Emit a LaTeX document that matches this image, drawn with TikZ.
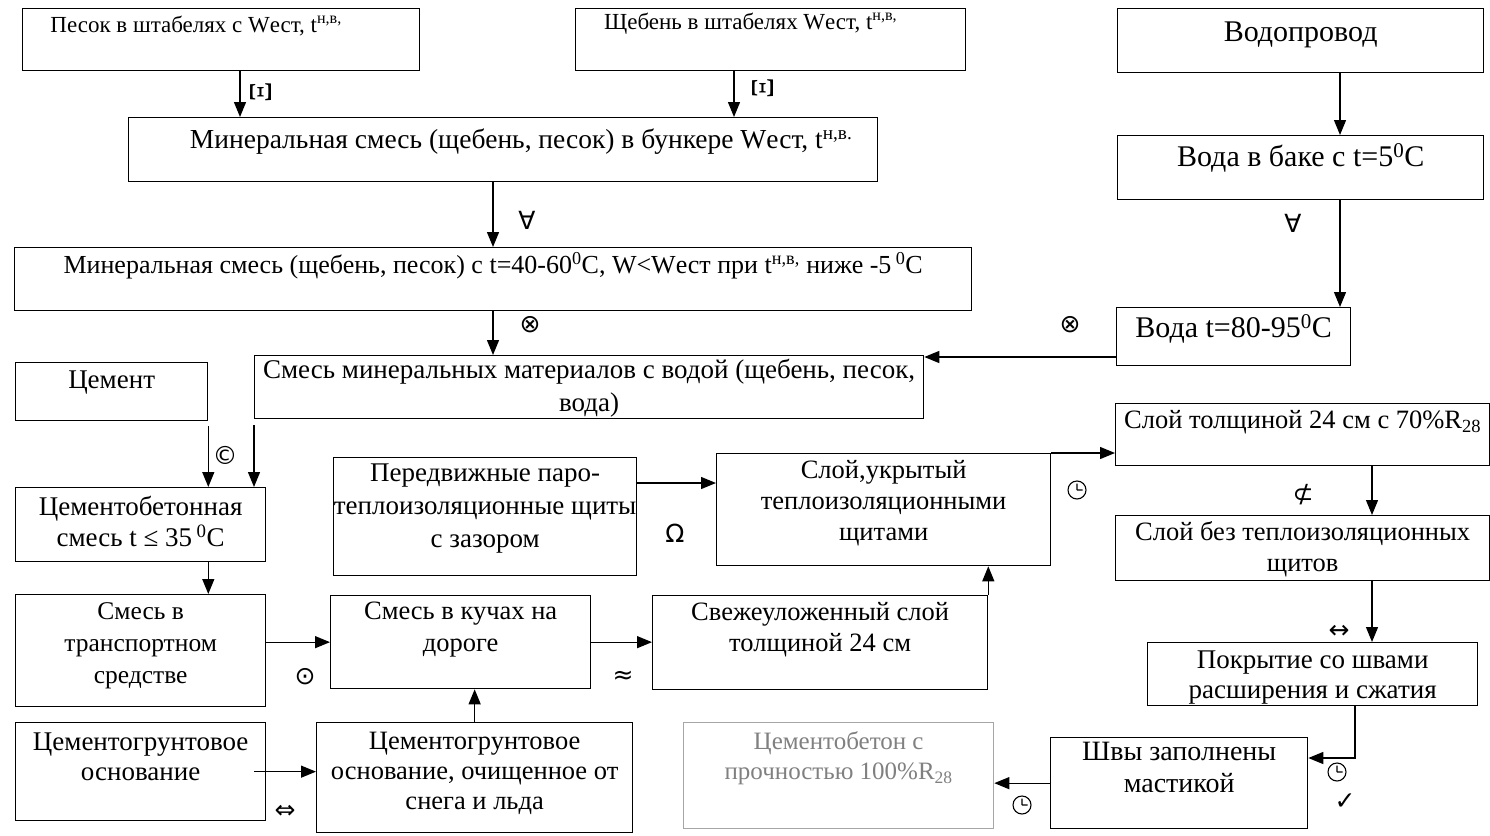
\documentclass[tikz,border=0pt]{standalone}
\usepackage{fontspec}
\setmainfont{Liberation Serif}
\newfontfamily\symb{DejaVu Sans}
\usetikzlibrary{arrows.meta}

\begin{document}
\begin{tikzpicture}[x=1pt, y=-1pt,
  box/.style={rectangle, draw, line width=1.3pt, inner sep=0pt, anchor=north west, align=center, font=\fontsize{27}{32}\selectfont},
  arr/.style={-{Stealth[length=15pt, width=12pt, inset=0pt]}, line width=1.3pt},
  sym/.style={inner sep=0pt, font=\symb\fontsize{25}{25}\selectfont},
  clock/.pic={\draw[line width=1.1pt] (0,0) circle (9) (0,0) -- (0,-6.5) (0,0) -- (5.5,0);}]
\useasboundingbox (0,0) rectangle (1490,835);

\node (0) [box, minimum width=397pt, text height=24pt, text depth=38pt, font=\fontsize{23}{30}\selectfont] at (22,8) {Песок в штабелях с Wест, t\textsuperscript{н,в,}\hspace*{50pt}};
\node (1) [box, minimum width=390pt, text height=21pt, text depth=41pt, font=\fontsize{23}{30}\selectfont] at (575,8) {Щебень в штабелях Wест, t\textsuperscript{н,в,}\hspace*{40pt}};
\node (2) [box, minimum width=366pt, text height=33pt, text depth=31pt, font=\fontsize{30}{34}\selectfont] at (1117,8) {Водопровод};
\node (3) [box, minimum width=749pt, text height=31pt, text depth=33pt, font=\fontsize{27.5}{32}\selectfont] at (128,117) {\hspace*{36pt}Минеральная смесь (щебень, песок) в бункере Wест, t\textsuperscript{н,в.}};
\node (4) [box, minimum width=366pt, text height=31pt, text depth=33pt, font=\fontsize{30}{34}\selectfont] at (1117,135) {Вода в баке с t=5\textsuperscript{0}C};
\node (5) [box, minimum width=957pt, text height=26pt, text depth=37pt, font=\fontsize{26}{30}\selectfont] at (14,247) {Минеральная смесь (щебень, песок) с t=40-60\textsuperscript{0}C, W<Wест при t\textsuperscript{н,в,} ниже -5\,\textsuperscript{0}C};
\node (6) [box, minimum width=234pt, text height=30pt, text depth=28pt, font=\fontsize{30}{34}\selectfont] at (1116,307) {Вода t=80-95\textsuperscript{0}C};
\node (7) [box, minimum width=192pt, text height=26pt, text depth=32pt] at (15,362) {Цемент};
\node (8) [box, minimum width=669pt, text height=56pt, text depth=7pt, font=\fontsize{27}{33}\selectfont] at (254,355) {Смесь минеральных материалов с водой (щебень, песок,\\вода)};
\node (9) [box, minimum width=250pt, text height=59pt, text depth=15pt, font=\fontsize{27}{31}\selectfont] at (15,487) {Цементобетонная\\смесь t ≤ 35\,\textsuperscript{0}C};
\node (10) [box, minimum width=303pt, text height=90pt, text depth=28pt, font=\fontsize{27}{33}\selectfont] at (333,457) {Передвижные паро-\\теплоизоляционные щиты\\с зазором};
\node (11) [box, minimum width=334pt, text height=87pt, text depth=25pt, font=\fontsize{26.5}{31}\selectfont] at (716,453) {Слой,укрытый\\теплоизоляционными\\щитами};
\node (12) [box, minimum width=374pt, text height=25pt, text depth=37pt, font=\fontsize{26.5}{31}\selectfont] at (1115,403) {Слой толщиной 24 см с 70\%R\textsubscript{28}};
\node (13) [box, minimum width=374pt, text height=56pt, text depth=9pt, font=\fontsize{26.5}{31}\selectfont] at (1115,515) {Слой без теплоизоляционных\\щитов};
\node (14) [box, minimum width=250pt, text height=89pt, text depth=23pt, font=\fontsize{25.5}{32}\selectfont] at (15,594) {Смесь в\\транспортном\\средстве};
\node (15) [box, minimum width=260pt, text height=56pt, text depth=37pt, font=\fontsize{26.5}{32}\selectfont] at (330,595) {Смесь в кучах на\\дороге};
\node (16) [box, minimum width=335pt, text height=56pt, text depth=38pt, font=\fontsize{26.5}{31}\selectfont] at (652,595) {Свежеуложенный слой\\толщиной 24 см};
\node (17) [box, minimum width=330pt, text height=56pt, text depth=7pt, font=\fontsize{27}{30}\selectfont] at (1147,642) {Покрытие со швами\\расширения и сжатия};
\node (18) [box, minimum width=250pt, text height=58pt, text depth=40pt, font=\fontsize{27}{30}\selectfont] at (15,722) {Цементогрунтовое\\основание};
\node (19) [box, minimum width=316pt, text height=87pt, text depth=23pt, font=\fontsize{26.5}{30}\selectfont] at (316,722) {Цементогрунтовое\\основание, очищенное от\\снега и льда};
\node (20) [box, draw=gray!70, text=gray, minimum width=310pt, text height=57pt, text depth=49pt, font=\fontsize{25}{30}\selectfont] at (683,722) {Цементобетон с\\прочностью 100\%R\textsubscript{28}};
\node (21) [box, minimum width=257pt, text height=55pt, text depth=36pt, font=\fontsize{28}{32}\selectfont] at (1050,737) {Швы заполнены\\мастикой};

% lanes for the arrows
\coordinate (l0) at (240,0);
\coordinate (l1) at (734,0);
\coordinate (l2) at (493,0);
\coordinate (l3) at (1340,0);
\coordinate (l4) at (0,357);
\coordinate (l5) at (0,483);
\coordinate (l6) at (1372,0);
\coordinate (l7) at (1355,758);

\path [arr]
    (0.south -| l0) edge (3.north -| l0)
    (1.south -| l1) edge (3.north -| l1)
    (3.south -| l2) edge (5.north -| l2)
    (5.south -| l2) edge (8.north -| l2)

    (2.south -| l3) edge (4.north -| l3)
    (4.south -| l3) edge (6.north -| l3)
    (6.west |- l4) edge (8.east |- l4)

    (7.south east) edge [shorten <=5pt] (9.north -| 7.south east)
    (8.south west) edge [shorten <=6pt] (9.north -| 8.south west)
    (9.south -| 7.south east) edge (14.north -| 7.south east)

    (14.east |- 15.west) edge (15.west)
    (15.east) edge (16.west |- 15.east)
    (16.north east) edge (11.south -| 16.north east)
    (10.east |- l5) edge (11.west |- l5)
    (11.north east) edge (12.west |- 11.north east)

    (12.south -| l6) edge (13.north -| l6)
    (13.south -| l6) edge (17.north -| l6)
    (21.west) edge (20.east |- 21.west)

    ([xshift=-12pt]18.east) edge (19.west |- 18.east)
    (19.north) edge (15.south -| 19.north);
\draw [arr] (17.south -| l7) |- (21.east |- l7);

% signs beside the arrows
\node (s0) [sym, rotate=90, font=\fontsize{32}{32}\selectfont] at (261,92) {Ξ};
\node (s1) [sym, rotate=90, font=\fontsize{32}{32}\selectfont] at (763,88) {Ξ};
\node (s2) [sym] at (527,220) {∀};
\node (s3) [sym] at (1293,223) {∀};
\node (s4) [sym] at (530,325) {⊗};
\node (s5) [sym] at (1070,325) {⊗};
\node (s6) [sym] at (225,455) {©};
\node (s7) [sym] at (305,677) {⊙};
\node (s8) [sym] at (623,677) {≈};
\node (s9) [sym] at (675,533) {Ω};
\node (s10) [sym] at (1303,495) {⊄};
\node (s11) [sym] at (1339,632) {↔};
\node (s12) [sym] at (285,812) {⇔};
\node (s13) [sym] at (1345,802) {✓};
\pic at (1077,490) {clock};
\pic at (1337,772) {clock};
\pic at (1022,805) {clock};
\end{tikzpicture}
\end{document}
